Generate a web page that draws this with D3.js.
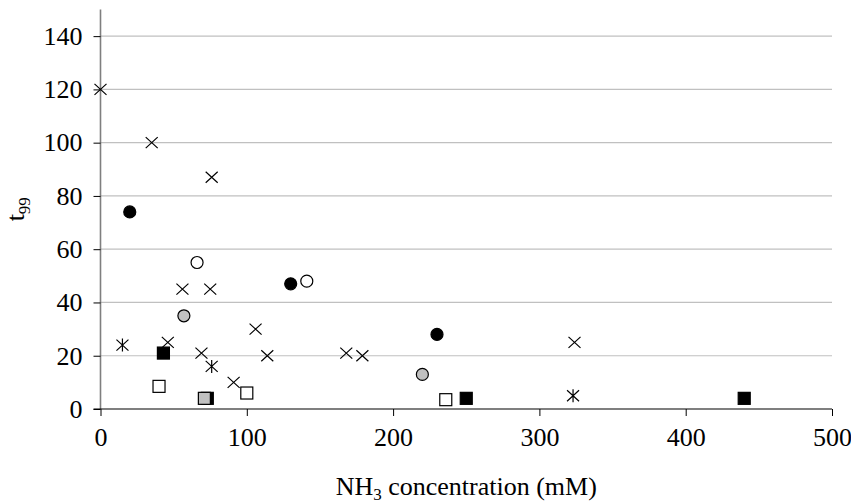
<!DOCTYPE html>
<html>
<head>
<meta charset="utf-8">
<script src="https://cdn.jsdelivr.net/npm/d3@7"></script>
<style>
  body { margin: 0; background: #fff; }
  svg text { font-family: "Liberation Serif", "Times New Roman", serif !important; }
</style>
</head>
<body>
<svg id="canvas" width="851" height="504"></svg>
<script>
// NH3 concentration (mM) vs t99, one pair of arrays per marker style
let crossX = [0, 35, 76, 56, 75, 46, 69, 91, 106, 114, 168, 179, 324]
let crossY = [120, 100, 87, 45, 45, 25, 21, 10, 30, 20, 21, 20, 25]

let starX = [15, 76, 323]
let starY = [24, 16, 5]

let blackDotX = [20, 130, 230]
let blackDotY = [74, 47, 28]

let openDotX = [66, 141]
let openDotY = [55, 48]

let greyDotX = [57, 220]
let greyDotY = [35, 13]

let blackSquareX = [43, 73, 250, 440]
let blackSquareY = [21, 4, 4, 4]

let openSquareX = [40, 100, 236]
let openSquareY = [8.5, 6, 3.5]

let greySquareX = [71]
let greySquareY = [4]

let xTicks = [0, 100, 200, 300, 400, 500]
let yTicks = [0, 20, 40, 60, 80, 100, 120, 140]

let canvas = d3.select("#canvas")

let margin = {left: 100.5, right: 19, top: 9.5, bottom: 95}
let width = 851 - margin.left - margin.right
let height = 504 - margin.top - margin.bottom

let xScale = d3.scaleLinear().domain([0, 500]).range([0, width])
let yScale = d3.scaleLinear().domain([0, 150]).range([height, 0])

let plot = canvas.append("g")
    .attr("transform", "translate(" + margin.left + "," + margin.top + ")")

// gridlines
plot.selectAll(".grid")
    .data(yTicks.filter((t) => t > 0))
    .enter()
    .append("line")
    .attr("x1", 0)
    .attr("x2", width)
    .attr("y1", (t) => yScale(t))
    .attr("y2", (t) => yScale(t))
    .attr("stroke", "#c0c0c0")
    .attr("stroke-width", 1.2)

// y axis
let yAxis = plot.append("g")
    .call(d3.axisLeft(yScale).tickValues(yTicks).tickSize(7).tickPadding(11))
yAxis.select(".domain").attr("stroke", "#7f7f7f").attr("stroke-width", 1.6)
    .attr("d", "M0," + height + "V0")
yAxis.selectAll(".tick line").attr("stroke", "#000")
yAxis.selectAll("text").attr("fill", "#000")
    .style("font-size", "26px")

// x axis
let xAxis = plot.append("g")
    .attr("transform", "translate(0," + height + ")")
    .call(d3.axisBottom(xScale).tickValues(xTicks).tickSize(7).tickPadding(12))
xAxis.select(".domain").attr("stroke", "#000").attr("stroke-width", 1.2)
    .attr("d", "M-7,0H" + width)
xAxis.selectAll(".tick line").attr("stroke", "#000")
xAxis.selectAll("text").attr("fill", "#000")
    .style("font-size", "26px")

// axis titles
let xTitle = canvas.append("text")
    .attr("x", margin.left + width / 2)
    .attr("y", 495)
    .attr("text-anchor", "middle")
    .style("font-size", "26px")
xTitle.append("tspan").text("NH")
xTitle.append("tspan").style("font-size", "17px").attr("dy", 5).text("3")
xTitle.append("tspan").attr("dy", -5).text(" concentration (mM)")

let yTitle = canvas.append("text")
    .attr("transform", "translate(24," + (margin.top + height / 2) + ") rotate(-90)")
    .attr("text-anchor", "middle")
    .style("font-size", "26px")
yTitle.append("tspan").text("t")
yTitle.append("tspan").style("font-size", "17px").attr("dy", 6).text("99")

let zip = (xs, ys) => xs.map((x, i) => [x, ys[i]])

let place = (sel) => sel.attr("transform", (d) => "translate(" + xScale(d[0]) + "," + yScale(d[1]) + ")")

// squares
let squares = (xs, ys, fill) => {
    plot.append("g").selectAll("rect")
        .data(zip(xs, ys))
        .enter()
        .append("rect")
        .call(place)
        .attr("x", -6).attr("y", -6)
        .attr("width", 12).attr("height", 12)
        .attr("fill", fill)
        .attr("stroke", "#000")
        .attr("stroke-width", 1.2)
}

let dots = (xs, ys, fill) => {
    plot.append("g").selectAll("circle")
        .data(zip(xs, ys))
        .enter()
        .append("circle")
        .call(place)
        .attr("r", 6)
        .attr("fill", fill)
        .attr("stroke", "#000")
        .attr("stroke-width", 1.2)
}

let marks = (xs, ys, d) => {
    plot.append("g").selectAll("path")
        .data(zip(xs, ys))
        .enter()
        .append("path")
        .call(place)
        .attr("d", d)
        .attr("fill", "none")
        .attr("stroke", "#000")
        .attr("stroke-width", 1.2)
}

squares(openSquareX, openSquareY, "#fff")
squares(blackSquareX, blackSquareY, "#000")
squares(greySquareX, greySquareY, "#c0c0c0")
dots(blackDotX, blackDotY, "#000")
dots(openDotX, openDotY, "#fff")
dots(greyDotX, greyDotY, "#c0c0c0")
marks(crossX, crossY, "M-6,-5.5L6,5.5M-6,5.5L6,-5.5")
marks(starX, starY, "M-6,-5.5L6,5.5M-6,5.5L6,-5.5M0,-6.5V6.5")
</script>
</body>
</html>
